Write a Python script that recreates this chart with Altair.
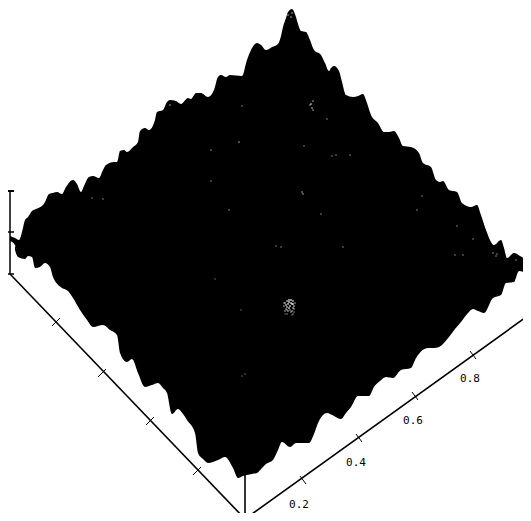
import altair as alt
import pandas as pd

# Surface silhouette (top edge, left to right)
upper_x = [10,15,19,22,25,28,32,36,43,45,49,53,57,62,66,73,77,81,84,89,93,99,103,106,114,117,120,124,127,133,138,140,145,149,155,157,163,167,170,176,181,188,191,196,201,208,214,218,221,226,230,242,247,251,254,257,261,266,272,278,281,283,286,288,292,296,298,301,306,310,314,321,325,329,331,334,339,342,346,353,358,363,367,371,378,384,389,394,399,403,411,419,423,431,436,440,443,449,457,462,471,477,481,486,494,501,504,507,514,520,525,530]
upper_y = [236,238,240,232,220,217,211,209,205,202,194,193,192,194,187,180,184,192,186,177,176,178,170,165,162,162,151,150,152,147,142,131,128,130,120,112,110,102,100,101,104,98,99,93,93,97,90,77,75,77,75,76,60,50,45,43,45,50,47,44,36,27,18,12,9,17,24,31,32,40,50,55,63,71,68,66,71,82,95,97,96,94,103,115,123,132,132,131,138,146,147,153,163,167,180,182,181,190,192,203,207,205,215,230,245,240,248,258,253,256,259,262]
upper_floor = [241,245] + [255 if x < 60 else 262 for x in upper_x[2:]]

# Bottom edge, left to right
lower_x = [15,18,25,28,32,35,40,45,50,53,62,68,73,80,87,93,103,110,117,120,127,132,138,145,152,158,163,167,172,178,183,187,195,198,203,208,218,225,233,238,243,247,252,257,262,266,273,278,282,290,296,303,309,314,318,327,334,341,346,351,358,369,374,380,386,393,401,411,416,428,434,439,449,455,461,468,473,478,484,493,501,506,514,519,525,530]
lower_y = [250,257,259,256,257,268,267,263,267,277,288,291,298,310,320,327,325,330,335,353,362,359,373,387,385,383,388,393,414,409,414,420,433,453,459,463,460,457,468,478,476,475,474,473,468,464,460,450,442,447,443,443,443,434,423,413,416,419,413,407,396,396,387,381,377,378,370,368,358,348,348,347,337,329,322,313,309,311,313,298,295,283,282,271,272,272]
lower_ceiling = [245 if x < 17 else (250 if x < 60 else (255 if x < 500 else 262)) for x in lower_x]

# Axis strokes
seg_x  = [10, 8,8,8, 10,245,245,529, 52,98,146,193, 300,356,412,470]
seg_y  = [191,191,232,274, 274,519,475,272, 326,377,425,475, 476,434,392,351]
seg_x2 = [10,14,14,14, 245,529,245,529, 60,106,154,201, 306,362,418,476]
seg_y2 = [274,191,232,274, 519,315,519,315, 318,369,417,467, 484,442,400,359]
seg_w  = [1.5,2,1.5,1.5, 1.6,1.6,1.6,0.8, 1,1,1,1, 1,1,1,1]

# Tick labels of the right base axis
label_text = ["0.2","0.4","0.6","0.8"]
label_x = [299,356,413,470]
label_y = [505,463,421,379]

# Bright patch on the surface
patch_x = [284,285,286,287,288,289,290,291,292,293,294,295,287,289,291,293,285,288,290,292,294,286,289,293,284,287,291,294,287,293,285,292]
patch_y = [306,303,309,301,304,300,306,300,304,301,306,303,307,308,303,308,311,311,310,311,309,305,302,304,303,310,312,312,314,314,314,315]
patch_g = [.55,.7,.6,.8,.9,.9,.9,.95,.9,.8,.7,.5,.8,.9,.85,.7,.5,.6,.5,.6,.5,.8,.95,.85,.4,.5,.5,.4,.4,.4,.3,.3]

# Scattered specks on the surface
speck_x = [243,170,242,239,211,211,103,229,288,292,291,311,312,313,310,313,327,304,336,350,332,302,303,321,276,281,343,422,417,457,473,497,455,463,493,496,516,241,215,242,245,92]
speck_y = [38,105,106,142,150,181,199,210,15,13,17,104,108,101,105,110,119,146,155,155,156,192,194,214,246,247,247,196,210,226,239,254,255,255,253,256,260,310,279,376,374,198]
speck_g = [.4,.5,.4,.5,.4,.4,.4,.4,.5,.5,.5,.7,.6,.5,.5,.5,.4,.4,.4,.4,.4,.5,.5,.4,.4,.4,.4,.4,.4,.4,.4,.4,.4,.4,.4,.4,.4,.3,.3,.3,.3,.4]

x_scale = alt.Scale(domain=[8, 531], range=[0, 523], nice=False, zero=False)
y_scale = alt.Scale(domain=[8, 521], range=[0, 513], nice=False, zero=False)
X = lambda f: alt.X(f, type="quantitative", scale=x_scale, axis=None)
Y = lambda f: alt.Y(f, type="quantitative", scale=y_scale, axis=None)

up = pd.DataFrame({"x": upper_x, "y": upper_y, "y2": upper_floor})
lo = pd.DataFrame({"x": lower_x, "y": lower_y, "y2": lower_ceiling})
seg = pd.DataFrame({"x": seg_x, "y": seg_y, "x2": seg_x2, "y2": seg_y2, "w": seg_w})
lab = pd.DataFrame({"x": label_x, "y": label_y, "t": label_text})
dots = pd.DataFrame({"x": patch_x + speck_x, "y": patch_y + speck_y, "g": patch_g + speck_g})

a1 = alt.Chart(up).mark_area(color="black", interpolate="monotone").encode(x=X("x"), y=Y("y"), y2="y2")
a2 = alt.Chart(lo).mark_area(color="black", interpolate="monotone").encode(x=X("x"), y=Y("y"), y2="y2")
rules = alt.Chart(seg).mark_rule(color="black").encode(
    x=X("x"), y=Y("y"), x2="x2", y2="y2",
    strokeWidth=alt.StrokeWidth("w:Q", scale=None, legend=None))
dot = alt.Chart(dots).mark_square(size=2.5, color="white", strokeWidth=0).encode(
    x=X("x"), y=Y("y"),
    opacity=alt.Opacity("g:Q", scale=alt.Scale(domain=[0, 1], range=[0, 1]), legend=None))
txt = alt.Chart(lab).mark_text(font="DejaVu Sans Mono", fontSize=11, color="black", align="center", baseline="middle").encode(
    x=X("x"), y=Y("y"), text="t:N")

chart = alt.layer(rules, a1, a2, dot, txt).properties(
    width=515, height=505, padding=0, autosize=alt.AutoSizeParams(type="none"), background="white"
).configure_view(stroke=None)

chart.save("out.html", embed_options={"renderer": "svg", "actions": False})
